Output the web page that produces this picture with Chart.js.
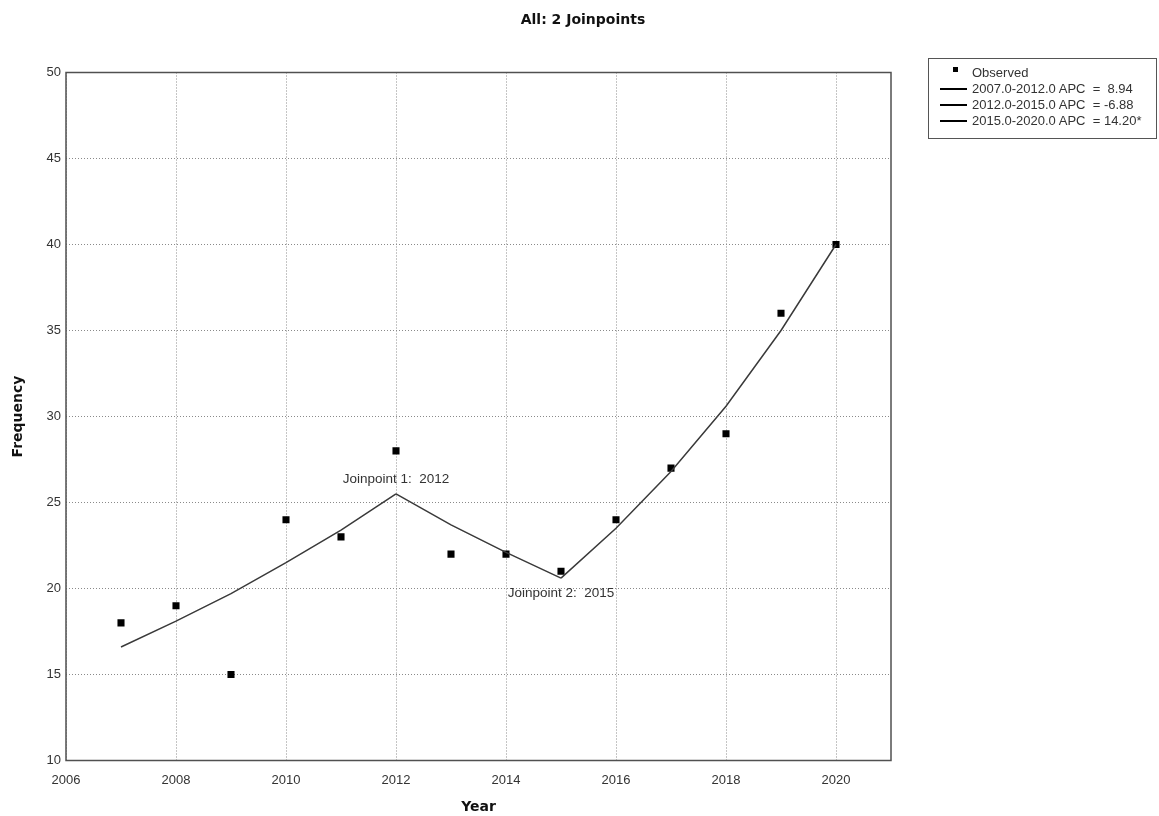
<!DOCTYPE html>
<html>
<head>
<meta charset="utf-8">
<script src="https://cdn.jsdelivr.net/npm/chart.js@4.4.1/dist/chart.umd.min.js"></script>
<style>
html,body{margin:0;padding:0;background:#fff;}
#wrap{position:relative;width:1159px;height:816px;overflow:hidden;}
#chart{position:absolute;left:0;top:0;}
#title{position:absolute;left:383px;top:10px;width:400px;text-align:center;font:bold 14px "DejaVu Sans",sans-serif;line-height:18px;color:#111;}
#legend{position:absolute;left:928px;top:58px;width:229px;height:81px;border:1px solid #555;box-sizing:border-box;font:13px "Liberation Sans",Arial,sans-serif;color:#333;}
.row{position:absolute;left:0;height:16px;line-height:16px;white-space:pre;}
.row .txt{position:absolute;left:43px;top:0;}
.row .ln{position:absolute;left:11px;top:7px;width:27px;height:2px;background:#000;}
.row .mk{position:absolute;left:24px;top:2px;width:5px;height:5px;background:#000;}
</style>
</head>
<body>
<div id="wrap">
  <canvas id="chart" width="1159" height="816"></canvas>
  <div id="title"></div>
  <div id="legend"></div>
</div>
<script>
// ---- data ----
const chartTitle = "All: 2 Joinpoints";
const years = [2007, 2008, 2009, 2010, 2011, 2012, 2013, 2014, 2015, 2016, 2017, 2018, 2019, 2020];
const observed = [18, 19, 15, 24, 23, 28, 22, 22, 21, 24, 27, 29, 36, 40];
const seg1Years = [2007, 2008, 2009, 2010, 2011, 2012];
const seg1Fit = [16.6, 18.1, 19.7, 21.5, 23.4, 25.5];
const seg2Years = [2012, 2013, 2014, 2015];
const seg2Fit = [25.5, 23.7, 22.1, 20.6];
const seg3Years = [2015, 2016, 2017, 2018, 2019, 2020];
const seg3Fit = [20.6, 23.5, 26.8, 30.6, 35.0, 40.0];
const legendLabels = ["Observed", "2007.0-2012.0 APC  =  8.94", "2012.0-2015.0 APC  = -6.88", "2015.0-2020.0 APC  = 14.20*"];
const joinYears = [2012, 2015];
const joinFits = [25.5, 20.6];
const joinLabels = ["Joinpoint 1:  2012", "Joinpoint 2:  2015"];
const xTicks = [2006, 2008, 2010, 2012, 2014, 2016, 2018, 2020];
const yTicks = [10, 15, 20, 25, 30, 35, 40, 45, 50];
const xTitle = "Year";
const yTitle = "Frequency";

const pts = (xs, ys) => xs.map((x, i) => ({x: x, y: ys[i]}));

document.getElementById('title').textContent = chartTitle;
const leg = document.getElementById('legend');
legendLabels.forEach((t, i) => {
  const r = document.createElement('div');
  r.className = 'row';
  r.style.top = (6 + i * 16.1) + 'px';
  r.style.width = '227px';
  const s = document.createElement('div');
  s.className = i === 0 ? 'mk' : 'ln';
  r.appendChild(s);
  const tx = document.createElement('span');
  tx.className = 'txt';
  tx.textContent = t;
  r.appendChild(tx);
  leg.appendChild(r);
});

const framePlugin = {
  id: 'frame',
  afterDatasetsDraw(chart) {
    const {ctx, chartArea: a, scales} = chart;
    ctx.save();
    ctx.strokeStyle = '#505050';
    ctx.lineWidth = 1.5;
    ctx.strokeRect(a.left, a.top, a.right - a.left, a.bottom - a.top);
    ctx.fillStyle = '#333';
    ctx.font = '13.5px "Liberation Sans", Arial, sans-serif';
    ctx.textAlign = 'center';
    ctx.textBaseline = 'middle';
    joinYears.forEach((yr, i) => {
      const px = scales.x.getPixelForValue(yr);
      const py = scales.y.getPixelForValue(joinFits[i]);
      ctx.fillText(joinLabels[i], px, i === 0 ? py - 15 : py + 15);
    });
    ctx.restore();
  }
};

const lineStyle = {borderColor: '#3a3a3a', borderWidth: 1.5, pointRadius: 0, showLine: true, fill: false, tension: 0};
const tickFont = {family: '"Liberation Sans", Arial, sans-serif', size: 13};
const titleFont = {family: '"DejaVu Sans", sans-serif', size: 14, weight: 'bold'};

new Chart(document.getElementById('chart'), {
  type: 'scatter',
  data: {
    datasets: [
      Object.assign({label: legendLabels[1], data: pts(seg1Years, seg1Fit)}, lineStyle),
      Object.assign({label: legendLabels[2], data: pts(seg2Years, seg2Fit)}, lineStyle),
      Object.assign({label: legendLabels[3], data: pts(seg3Years, seg3Fit)}, lineStyle),
      {label: legendLabels[0], data: pts(years, observed), pointStyle: 'rect', pointRadius: 5, pointBackgroundColor: '#000', pointBorderWidth: 0, showLine: false}
    ]
  },
  options: {
    responsive: false,
    animation: false,
    events: [],
    layout: {padding: {top: 72.5, right: 268, left: 0, bottom: 0}},
    plugins: {legend: {display: false}, title: {display: false}, tooltip: {enabled: false}},
    scales: {
      x: {
        type: 'linear', min: 2006, max: 2021,
        afterBuildTicks: s => { s.ticks = xTicks.map(v => ({value: v})); },
        afterFit: s => { s.height = 55.5; },
        grid: {color: '#8a8a8a', lineWidth: 1, drawTicks: false},
        border: {display: false, dash: [1, 2]},
        ticks: {padding: 12, color: '#333', font: tickFont, callback: v => String(v)},
        title: {display: true, text: xTitle, color: '#111', font: titleFont, padding: {top: 0, bottom: 0}}
      },
      y: {
        type: 'linear', min: 10, max: 50,
        afterBuildTicks: s => { s.ticks = yTicks.map(v => ({value: v})); },
        afterFit: s => { s.width = 66; },
        grid: {color: '#8a8a8a', lineWidth: 1, drawTicks: false},
        border: {display: false, dash: [1, 2]},
        ticks: {padding: 5, color: '#333', font: tickFont},
        title: {display: true, text: yTitle, color: '#111', font: titleFont, padding: {top: 10, bottom: 10}}
      }
    }
  },
  plugins: [framePlugin]
});
</script>
</body>
</html>
